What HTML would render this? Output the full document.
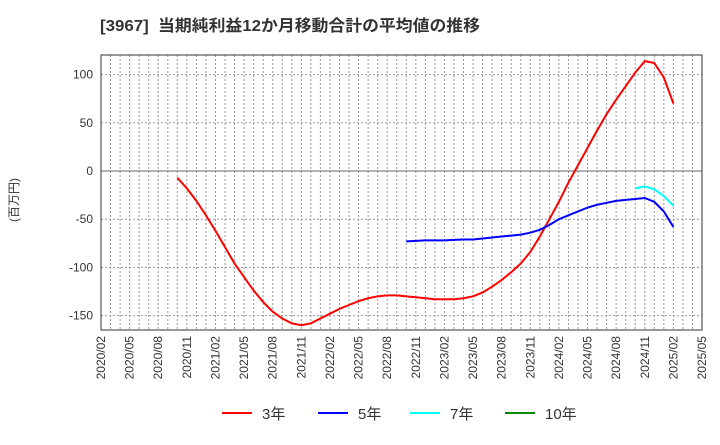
<!DOCTYPE html>
<html><head><meta charset="utf-8"><style>
body{margin:0;background:#fff;width:720px;height:440px;overflow:hidden}
svg text{font-family:"Liberation Sans","Noto Sans CJK JP",sans-serif}
</style></head><body>
<svg id="c" width="720" height="440" xmlns="http://www.w3.org/2000/svg">
<text x="100" y="31" font-size="16" font-weight="bold" fill="#333" textLength="380" lengthAdjust="spacingAndGlyphs" xml:space="preserve">[3967]  当期純利益12か月移動合計の平均値の推移</text>
<text transform="translate(18,200) rotate(-90)" font-size="12" fill="#333" text-anchor="middle">(百万円)</text>
<g id="grid"></g><g id="axes"></g><g id="series"></g><g id="legend"></g>
</svg>
<script>
const xLabels=["2020/02","2020/05","2020/08","2020/11","2021/02","2021/05","2021/08","2021/11","2022/02","2022/05","2022/08","2022/11","2023/02","2023/05","2023/08","2023/11","2024/02","2024/05","2024/08","2024/11","2025/02","2025/05"];
const yTicks=[100,50,0,-50,-100,-150];
const s3Start=8;
const s3=[-7,-18,-31,-46,-62,-79,-96,-110,-124,-136,-146,-153,-158,-160,-158,-153,-148,-143,-139,-135,-132,-130,-129,-129,-130,-131,-132,-133,-133,-133,-132,-130,-126,-120,-113,-105,-96,-84,-68,-50,-32,-12,6,24,42,59,74,88,102,114,112,97,70];
const s5Start=32;
const s5=[-73,-72.5,-72,-72,-72,-71.5,-71,-71,-70,-69,-68,-67,-66,-64,-61,-56,-50,-46,-42,-38,-35,-33,-31,-30,-29,-28,-32,-42,-58];
const s7Start=56;
const s7=[-18,-16,-19,-26,-36];
const s10Start=0;
const s10=[];
const L=101,R=702,T=55,B=330;
const X=m=>L+m*(R-L)/63;
const Y=v=>171-v*0.964;
const NS="http://www.w3.org/2000/svg";
function mk(p,t,a){const e=document.createElementNS(NS,t);for(const k in a)e.setAttribute(k,a[k]);p.appendChild(e);return e;}
const g=document.getElementById('grid'),ax=document.getElementById('axes'),se=document.getElementById('series'),lg=document.getElementById('legend');
for(let m=1;m<63;m++){const l=mk(g,'line',{x1:X(m),x2:X(m),y1:T,y2:B,stroke:'#999','stroke-dasharray':'2,2','stroke-width':1});

}
yTicks.forEach(v=>{const l=mk(g,'line',{x1:L,x2:R,y1:Y(v),y2:Y(v),stroke:v===0?'#666':'#999','stroke-dasharray':v===0?'':'2,2','stroke-width':1});


const t=mk(ax,'text',{x:L-8,y:Y(v)+4,'font-size':12,'text-anchor':'end',fill:'#333'});t.textContent=v;

});
const fr=mk(ax,'rect',{x:L,y:T,width:R-L,height:B-T,fill:'none',stroke:'#333'});


xLabels.forEach((s,i)=>{const x=X(i*3);const t=mk(ax,'text',{transform:`translate(${x+4},${B+6}) rotate(-90)`,'font-size':12,'text-anchor':'end',fill:'#333'});t.textContent=s;

});
function line(start,arr,col,name){if(!arr.length)return;const p=mk(se,'polyline',{points:arr.map((v,i)=>X(start+i)+','+Y(v)).join(' '),fill:'none',stroke:col,'stroke-width':2,'stroke-linejoin':'round'});

}
line(s3Start,s3,'#f00','series-3yr');
line(s5Start,s5,'#00f','series-5yr');
line(s7Start,s7,'#0ff','series-7yr');
line(s10Start,s10,'#080','series-10yr');
[['#f00','3年',222],['#00f','5年',318],['#0ff','7年',410],['#080','10年',505]].forEach(([c,n,x])=>{
const gg=mk(lg,'g',{});


mk(gg,'line',{x1:x,x2:x+30,y1:413,y2:413,stroke:c,'stroke-width':2});
const t=mk(gg,'text',{x:x+40,y:419,'font-size':15,fill:'#333'});t.textContent=n;});
</script>
</body></html>
